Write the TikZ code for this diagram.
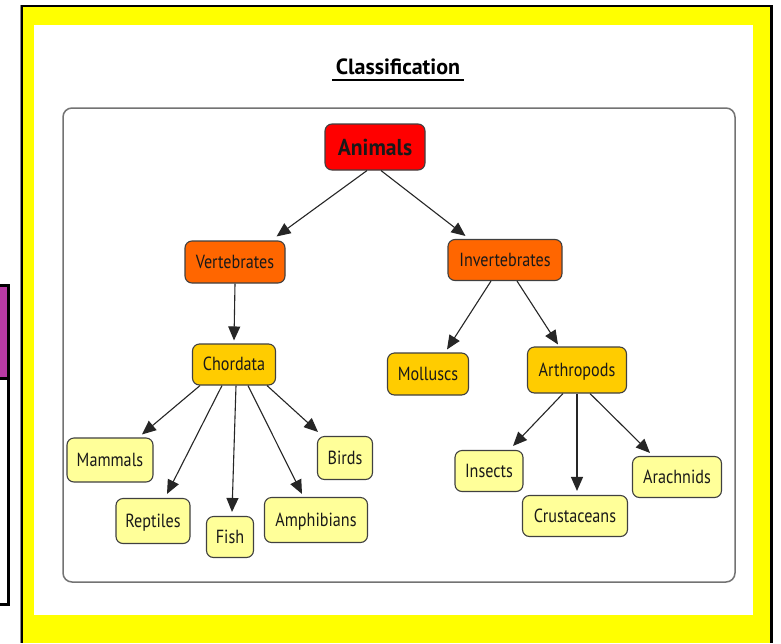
\documentclass[tikz,border=0pt]{standalone}
\usepackage{fontspec}
\newfontfamily\nodefont[FakeStretch=0.85]{PT Sans}
\newfontfamily\kingdomfont[FakeStretch=0.94]{PT Sans}
\newfontfamily\titlefont{PT Sans}
\usetikzlibrary{positioning, calc, arrows.meta}

\definecolor{animalred}{HTML}{FF0000}
\definecolor{grouporange}{HTML}{FF6600}
\definecolor{classgold}{HTML}{FFCC00}
\definecolor{leafyellow}{HTML}{FFFF99}
\definecolor{framepurple}{HTML}{B83AA3}
\definecolor{frameyellow}{HTML}{FFFF00}

\tikzset{
  concept/.style={draw=black!75, line width=1.1pt, rounded corners=7pt, inner sep=0pt,
    text=black!90, text height=15pt, text depth=3pt,
    font=\nodefont\fontsize{19}{19}\selectfont},
  kingdom/.style={concept, fill=animalred, text height=18pt, text depth=1pt,
    font=\kingdomfont\bfseries\fontsize{23}{23}\selectfont},
  group/.style={concept, fill=grouporange},
  phylum/.style={concept, fill=classgold},
  leaf/.style={concept, fill=leafyellow},
  arr/.style={-{Triangle[length=14pt,width=12pt]}, line width=1.1pt, black!85}
}

\begin{document}
\begin{tikzpicture}[x=1pt, y=-1pt]
                    \useasboundingbox (0,0) rectangle (781,643);
                    % frame and side box
                    \fill[white] (0,0) rectangle (781,643);
                    \fill[framepurple] (-5,285) rectangle (7,377);
                    \draw[line width=3pt] (-5,285) rectangle (8,604);
                    \draw[line width=3pt] (-5,378) -- (8,378);
                    \fill[black!45] (20,5) rectangle (773,643);
                    \fill[black] (21,5) rectangle (773,643);
                    \fill[frameyellow] (23,7) rectangle (770,643);
                    \fill[white] (34,25) rectangle (753,615);
                    \draw[black!55, line width=1.5pt, rounded corners=9pt] (63,108) rectangle (735,582);
                    % title
                    \node (title) at (398,67) {\titlefont\bfseries\fontsize{22}{22}\selectfont Classification};
                    \draw[line width=1.8pt] ($(title.base west)+(0,5)$) -- ($(title.base east)+(0,5)$);
                    % nodes
                    \node[kingdom, minimum width=100pt, minimum height=46pt] (animals) at (375,147) {Animals};
                    \node[group, minimum width=100pt, minimum height=42pt] (vert) at (235,262) {Vertebrates};
                    \node[group, minimum width=114pt, minimum height=41pt] (invert) at (505,260) {Invertebrates};
                    \node[phylum, minimum width=83pt, minimum height=41pt] (chord) at (234,364.5) {Chordata};
                    \node[phylum, minimum width=81pt, minimum height=42pt] (moll) at (428,374) {Molluscs};
                    \node[phylum, minimum width=99pt, minimum height=46pt] (arth) at (577,370) {Arthropods};
                    \node[leaf, minimum width=86pt, minimum height=44pt] (mamm) at (110,460) {Mammals};
                    \node[leaf, minimum width=55pt, minimum height=43pt] (birds) at (345,458) {Birds};
                    \node[leaf, minimum width=74pt, minimum height=45pt] (rept) at (153,521) {Reptiles};
                    \node[leaf, minimum width=47pt, minimum height=41pt] (fish) at (230,537) {Fish};
                    \node[leaf, minimum width=103pt, minimum height=45pt] (amph) at (316,520) {Amphibians};
                    \node[leaf, minimum width=68pt, minimum height=41pt] (insect) at (489,471) {Insects};
                    \node[leaf, minimum width=105pt, minimum height=41pt] (crust) at (575,516) {Crustaceans};
                    \node[leaf, minimum width=89pt, minimum height=41pt] (arach) at (677,477) {Arachnids};
                    % arrows
                    \draw[arr] ([xshift=-8pt]animals.south) -- ([xshift=-9pt,yshift=4pt]vert.north east);
                    \draw[arr] ([xshift=6pt]animals.south) -- ([xshift=18pt,yshift=3pt]invert.north west);
                    \draw[arr] (vert.south) -- ([yshift=3pt]chord.north);
                    \draw[arr] ([xshift=-14pt]invert.south) -- ([xshift=19pt,yshift=3pt]moll.north);
                    \draw[arr] ([xshift=12pt]invert.south) -- ([xshift=-19pt,yshift=2pt]arth.north);
                    \draw[arr] ([xshift=-34pt]chord.south) -- ([xshift=32pt,yshift=3pt]mamm.north);
                    \draw[arr] ([xshift=-12pt]chord.south) -- ([xshift=14pt,yshift=4pt]rept.north);
                    \draw[arr] ([xshift=2pt]chord.south) -- ([xshift=2pt,yshift=4pt]fish.north);
                    \draw[arr] ([xshift=14pt]chord.south) -- ([xshift=-14pt,yshift=3pt]amph.north);
                    \draw[arr] ([xshift=33pt]chord.south) -- ([xshift=-27pt,yshift=4pt]birds.north);
                    \draw[arr] ([xshift=-14pt]arth.south) -- ([xshift=24pt,yshift=4pt]insect.north);
                    \draw[arr] (arth.south) -- ([xshift=2pt,yshift=4pt]crust.north);
                    \draw[arr] ([xshift=13pt]arth.south) -- ([xshift=-27pt,yshift=3pt]arach.north);
                \end{tikzpicture}
\end{document}
